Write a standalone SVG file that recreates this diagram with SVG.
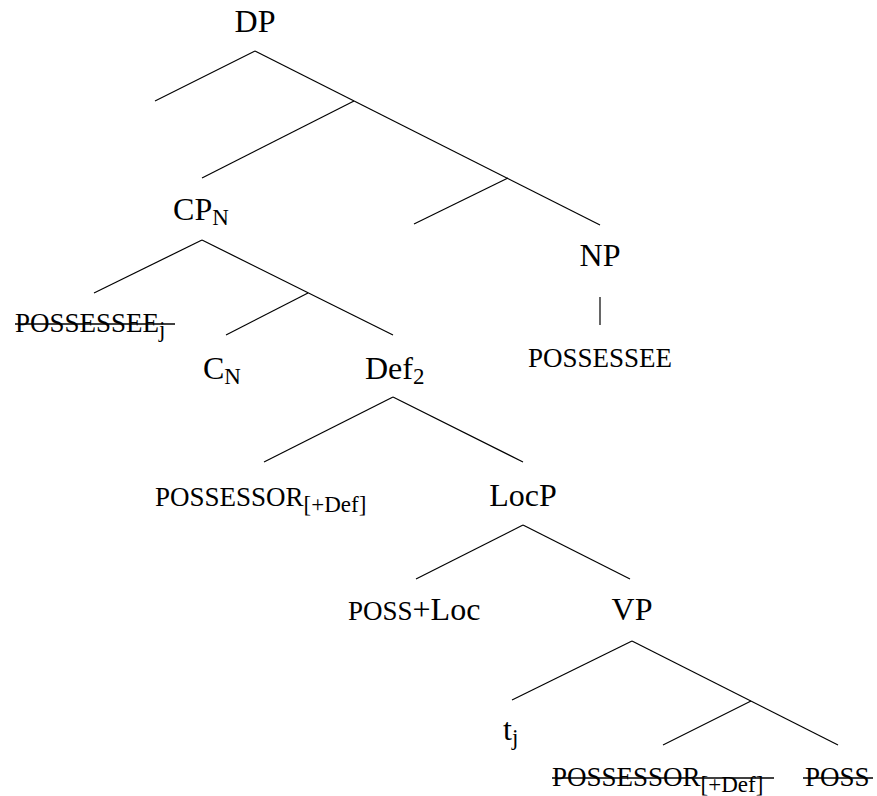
<svg xmlns="http://www.w3.org/2000/svg" width="877" height="796" viewBox="0 0 877 796">
<style>
  .lbl { font-family: "Liberation Serif", "Times New Roman", serif; font-size: 32px; fill: #000; }
  .sc { font-family: "Liberation Serif", "Times New Roman", serif; font-size: 27px; fill: #000; }
  .sub { font-size: 23px; }
  .mid { text-anchor: middle; }
  .edge { stroke: #000; stroke-width: 1.2; fill: none; }
  .strike { stroke: #000; stroke-width: 1.6; }
</style>
<rect width="877" height="796" fill="#fff"/>
<g id="connectors">
  <line class="edge" x1="255" y1="51" x2="155" y2="101"/>
  <line class="edge" x1="255" y1="51" x2="600" y2="225"/>
  <line class="edge" x1="354" y1="101" x2="202" y2="178"/>
  <line class="edge" x1="508" y1="178" x2="414" y2="224"/>
  <line class="edge" x1="600" y1="297" x2="600" y2="325"/>
  <line class="edge" x1="202" y1="240" x2="94" y2="293"/>
  <line class="edge" x1="202" y1="240" x2="393" y2="335"/>
  <line class="edge" x1="308" y1="293" x2="226" y2="335"/>
  <line class="edge" x1="393" y1="397" x2="264" y2="462"/>
  <line class="edge" x1="393" y1="397" x2="523" y2="462"/>
  <line class="edge" x1="523" y1="525" x2="416" y2="579"/>
  <line class="edge" x1="523" y1="525" x2="630" y2="579"/>
  <line class="edge" x1="632" y1="641" x2="512" y2="700"/>
  <line class="edge" x1="632" y1="641" x2="838" y2="745"/>
  <line class="edge" x1="751" y1="701" x2="663" y2="745"/>
</g>
<g id="DP"><text class="lbl mid" x="255" y="32">DP</text></g>
<g id="CPN"><text class="lbl mid" x="201" y="220">CP<tspan class="sub" dy="5">N</tspan></text></g>
<g id="NP"><text class="lbl mid" x="600" y="266">NP</text></g>
<g id="POSSESSEE"><text class="sc mid" x="600" y="367">POSSESSEE</text></g>
<g id="POSSESSEEj">
  <text class="sc" x="15" y="332">POSSESSEE<tspan class="sub" dy="5">j</tspan></text>
  <line class="strike" x1="15" y1="324" x2="175" y2="324"/>
</g>
<g id="CN"><text class="lbl" x="203" y="379">C<tspan class="sub" dy="5">N</tspan></text></g>
<g id="Def2"><text class="lbl" x="365" y="379">Def<tspan class="sub" dy="5">2</tspan></text></g>
<g id="POSSESSOR"><text class="sc" x="155" y="506">POSSESSOR<tspan class="sub" dy="6">[+Def]</tspan></text></g>
<g id="LocP"><text class="lbl mid" x="523" y="506">LocP</text></g>
<g id="POSSLoc"><text class="lbl" x="348" y="620"><tspan font-size="27">POSS</tspan>+Loc</text></g>
<g id="VP"><text class="lbl mid" x="632" y="620">VP</text></g>
<g id="tj"><text class="lbl" x="503" y="740">t<tspan class="sub" dy="5">j</tspan></text></g>
<g id="POSSESSORlow">
  <text class="sc" x="552" y="786">POSSESSOR<tspan class="sub" dy="6">[+Def]</tspan></text>
  <line class="strike" x1="552" y1="778" x2="774" y2="778"/>
</g>
<g id="POSSlow">
  <text class="sc" x="805" y="786">POSS</text>
  <line class="strike" x1="803" y1="778" x2="873" y2="778"/>
</g>
</svg>
